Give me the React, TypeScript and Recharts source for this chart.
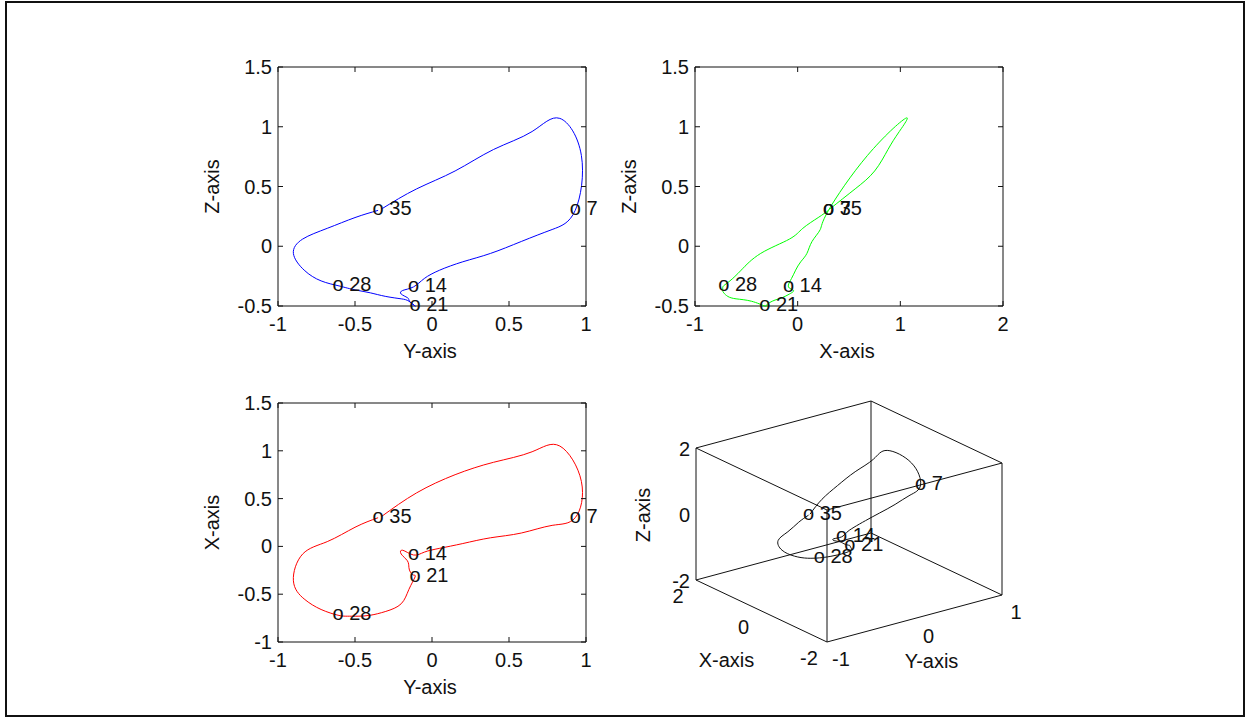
import React from 'react'
import { LineChart, Line, XAxis, YAxis, ReferenceArea } from 'recharts'

const FONT = '"Liberation Sans", Arial, Helvetica, sans-serif'
const INK = '#111111'

// one loop of the trajectory, sampled per step
const steps = [
  0, 1, 2, 3, 4, 5, 6, 7, 8, 9, 10, 11, 12, 13, 14, 15, 16, 17,
  18, 19, 20, 21, 22, 23, 24, 25, 26, 27, 28, 29, 30, 31, 32, 33, 34, 35,
]
const xPos = [
  0.31, 0.56, 0.75, 0.88, 0.99, 1.05, 0.68, 0.3, 0.22, 0.14, 0.09, 0.03, -0.02, -0.06, -0.09, -0.04, -0.08, -0.15,
  -0.22, -0.27, -0.3, -0.32, -0.45, -0.6, -0.68, -0.72, -0.73, -0.73, -0.72, -0.66, -0.55, -0.36, -0.08, 0.05, 0.2, 0.3,
]
const yPos = [
  -0.33, -0.1, 0.15, 0.4, 0.65, 0.83, 0.97, 0.93, 0.78, 0.58, 0.38, 0.2, 0.05, -0.05, -0.12, -0.19, -0.2, -0.16,
  -0.15, -0.14, -0.12, -0.11, -0.15, -0.2, -0.3, -0.4, -0.48, -0.55, -0.61, -0.72, -0.83, -0.9, -0.84, -0.68, -0.5, -0.35,
]
const zPos = [
  0.31, 0.48, 0.63, 0.81, 0.96, 1.07, 0.76, 0.3, 0.14, 0.04, -0.06, -0.13, -0.2, -0.27, -0.34, -0.37, -0.4, -0.43,
  -0.45, -0.47, -0.49, -0.5, -0.46, -0.44, -0.42, -0.39, -0.37, -0.35, -0.33, -0.29, -0.2, -0.06, 0.06, 0.15, 0.24, 0.3,
]
const markedSteps = [7, 14, 21, 28, 35]

// 2D axis ticks
const yAxisTicks = [-1, -0.5, 0, 0.5, 1]
const zAxisTicks = [-0.5, 0, 0.5, 1, 1.5]
const xWideTicks = [-1, 0, 1, 2]
const xTallTicks = [-1, -0.5, 0, 0.5, 1, 1.5]

// 3D box ticks
const cubeXTicks = [-2, 0, 2]
const cubeYTicks = [-1, 0, 1]
const cubeZTicks = [-2, 0, 2]

const path = steps.map((t, i) => ({ t, x: xPos[i], y: yPos[i], z: zPos[i] }))

const PLOT_W = 308
const PLOT_H = 239
const AXIS_W = 80
const AXIS_H = 60
const TOP = 10
const RIGHT = 20

const textStyle = { fontSize: 20, fill: INK, fontFamily: FONT }

function renderMark(props: any) {
  const { cx, cy, payload, index } = props
  if (!markedSteps.includes(payload.t) || cx == null) return <g key={`m${index}`} />
  return (
    <text key={`m${index}`} x={cx - 5.5} y={cy + 5} {...textStyle}>
      o {payload.t}
    </text>
  )
}

interface PanelProps {
  left: number
  top: number
  xKey: string
  yKey: string
  xDomain: [number, number]
  yDomain: [number, number]
  xTicks: number[]
  yTicks: number[]
  color: string
  xTitle: string
  yTitle: string
}

function Panel({ left, top, xKey, yKey, xDomain, yDomain, xTicks, yTicks, color, xTitle, yTitle }: PanelProps) {
  const bottom = TOP + PLOT_H
  const right = AXIS_W + PLOT_W

  const xTick = ({ x, payload }: any) => (
    <g>
      <line x1={x} x2={x} y1={bottom} y2={bottom - 5} stroke={INK} />
      <line x1={x} x2={x} y1={TOP} y2={TOP + 5} stroke={INK} />
      <text x={x} y={bottom + 24.5} textAnchor="middle" {...textStyle}>
        {payload.value}
      </text>
    </g>
  )
  const yTick = ({ y, payload }: any) => (
    <g>
      <line x1={AXIS_W} x2={AXIS_W + 5} y1={y} y2={y} stroke={INK} />
      <line x1={right} x2={right - 5} y1={y} y2={y} stroke={INK} />
      <text x={AXIS_W - 6} y={y + 7} textAnchor="end" {...textStyle}>
        {payload.value}
      </text>
    </g>
  )

  const cy = TOP + PLOT_H / 2
  return (
    <div style={{ position: 'absolute', left, top }}>
      <LineChart
        width={AXIS_W + PLOT_W + RIGHT}
        height={TOP + PLOT_H + AXIS_H}
        data={path}
        margin={{ top: TOP, right: RIGHT, left: 0, bottom: 0 }}
      >
        <XAxis
          type="number"
          dataKey={xKey}
          domain={xDomain}
          ticks={xTicks}
          interval={0}
          axisLine={false}
          tickLine={false}
          tick={xTick}
          height={AXIS_H}
          label={{
            value: xTitle,
            content: () => (
              <text x={AXIS_W + PLOT_W / 2 - 2} y={bottom + 52} textAnchor="middle" {...textStyle}>
                {xTitle}
              </text>
            ),
          }}
        />
        <YAxis
          type="number"
          domain={yDomain}
          ticks={yTicks}
          interval={0}
          axisLine={false}
          tickLine={false}
          tick={yTick}
          width={AXIS_W}
          label={{
            value: yTitle,
            content: () => (
              <text
                x={21}
                y={cy}
                transform={`rotate(-90 21 ${cy})`}
                textAnchor="middle"
                {...textStyle}
              >
                {yTitle}
              </text>
            ),
          }}
        />
        <ReferenceArea
          x1={xDomain[0]}
          x2={xDomain[1]}
          y1={yDomain[0]}
          y2={yDomain[1]}
          fill="none"
          stroke={INK}
          strokeWidth={1}
          ifOverflow="visible"
        />
        <Line
          dataKey={yKey}
          type="natural"
          stroke={color}
          strokeWidth={1}
          dot={renderMark}
          activeDot={false}
          isAnimationActive={false}
        />
      </LineChart>
    </div>
  )
}

// 3D box: axonometric projection into the chart's pixel space
const CUBE_LEFT = 600
const CUBE_TOP = 380
const CUBE_W = 460
const CUBE_H = 320
const ORIGIN = { x: 227, y: 262 }
const AX_X = { x: -131, y: -62 }
const AX_Y = { x: 175, y: -47 }
const AX_Z = { x: 0, y: -132 }
const xLim = [cubeXTicks[0], cubeXTicks[cubeXTicks.length - 1]]
const yLim = [cubeYTicks[0], cubeYTicks[cubeYTicks.length - 1]]
const zLim = [cubeZTicks[0], cubeZTicks[cubeZTicks.length - 1]]

function project(x: number, y: number, z: number) {
  const u = (x - xLim[0]) / (xLim[1] - xLim[0])
  const v = (y - yLim[0]) / (yLim[1] - yLim[0])
  const w = (z - zLim[0]) / (zLim[1] - zLim[0])
  return {
    sx: ORIGIN.x + u * AX_X.x + v * AX_Y.x + w * AX_Z.x,
    sy: ORIGIN.y + u * AX_X.y + v * AX_Y.y + w * AX_Z.y,
  }
}

const path3d = path.map((p) => ({ t: p.t, ...project(p.x, p.y, p.z) }))

const corners: number[][] = []
for (const x of xLim) for (const y of yLim) for (const z of zLim) corners.push([x, y, z])
const edges: { sx: number; sy: number }[][] = []
corners.forEach((a, i) => {
  corners.slice(i + 1).forEach((b) => {
    const diff = a.filter((c, k) => c !== b[k]).length
    if (diff === 1) edges.push([project(a[0], a[1], a[2]), project(b[0], b[1], b[2])])
  })
})

const cubeLabels = [
  ...cubeZTicks.map((z) => ({ ...project(xLim[1], yLim[0], z), text: String(z), dx: -6, dy: 8, anchor: 'end', rot: 0 })),
  ...cubeXTicks.map((x) => ({ ...project(x, yLim[0], zLim[0]), text: String(x), dx: -18, dy: 23, anchor: 'middle', rot: 0 })),
  ...cubeYTicks.map((y) => ({ ...project(xLim[0], y, zLim[0]), text: String(y), dx: 14, dy: 24, anchor: 'middle', rot: 0 })),
  { ...project(0, yLim[0], zLim[0]), text: 'X-axis', dx: -35, dy: 56, anchor: 'middle', rot: 0 },
  { ...project(xLim[0], 0, zLim[0]), text: 'Y-axis', dx: 17, dy: 49, anchor: 'middle', rot: 0 },
  { ...project(xLim[1], yLim[0], 0), text: 'Z-axis', dx: -46, dy: 1, anchor: 'middle', rot: -90 },
]

function renderCubeLabel(props: any) {
  const { cx, cy, payload, index } = props
  const x = cx + payload.dx
  const y = cy + payload.dy
  return (
    <text
      key={`c${index}`}
      x={x}
      y={y}
      textAnchor={payload.anchor}
      transform={payload.rot ? `rotate(${payload.rot} ${x} ${y})` : undefined}
      {...textStyle}
    >
      {payload.text}
    </text>
  )
}

function CubePanel() {
  return (
    <div style={{ position: 'absolute', left: CUBE_LEFT, top: CUBE_TOP }}>
      <LineChart width={CUBE_W} height={CUBE_H} margin={{ top: 0, right: 0, left: 0, bottom: 0 }}>
        <XAxis type="number" dataKey="sx" domain={[0, CUBE_W]} hide />
        <YAxis type="number" domain={[0, CUBE_H]} reversed hide />
        {edges.map((e, i) => (
          <Line
            key={`edge${i}`}
            data={e}
            dataKey="sy"
            type="linear"
            stroke={INK}
            strokeWidth={1}
            dot={false}
            activeDot={false}
            isAnimationActive={false}
          />
        ))}
        <Line
          data={path3d}
          dataKey="sy"
          type="natural"
          stroke={INK}
          strokeWidth={1}
          dot={renderMark}
          activeDot={false}
          isAnimationActive={false}
        />
        <Line
          data={cubeLabels}
          dataKey="sy"
          stroke="none"
          dot={renderCubeLabel}
          activeDot={false}
          isAnimationActive={false}
        />
      </LineChart>
    </div>
  )
}

export default function App() {
  return (
    <div style={{ position: 'absolute', left: 0, top: 0, width: 1245, height: 717, background: '#fff' }}>
      <div
        style={{
          position: 'absolute',
          left: 5,
          top: 1,
          width: 1240,
          height: 716,
          border: '2px solid #111',
          boxSizing: 'border-box',
        }}
      />
      <Panel
        left={198}
        top={57}
        xKey="y"
        yKey="z"
        xDomain={[-1, 1]}
        yDomain={[-0.5, 1.5]}
        xTicks={yAxisTicks}
        yTicks={zAxisTicks}
        color="#0000ff"
        xTitle="Y-axis"
        yTitle="Z-axis"
      />
      <Panel
        left={615}
        top={57}
        xKey="x"
        yKey="z"
        xDomain={[-1, 2]}
        yDomain={[-0.5, 1.5]}
        xTicks={xWideTicks}
        yTicks={zAxisTicks}
        color="#00ff00"
        xTitle="X-axis"
        yTitle="Z-axis"
      />
      <Panel
        left={198}
        top={393}
        xKey="y"
        yKey="x"
        xDomain={[-1, 1]}
        yDomain={[-1, 1.5]}
        xTicks={yAxisTicks}
        yTicks={xTallTicks}
        color="#ff0000"
        xTitle="Y-axis"
        yTitle="X-axis"
      />
      <CubePanel />
    </div>
  )
}
